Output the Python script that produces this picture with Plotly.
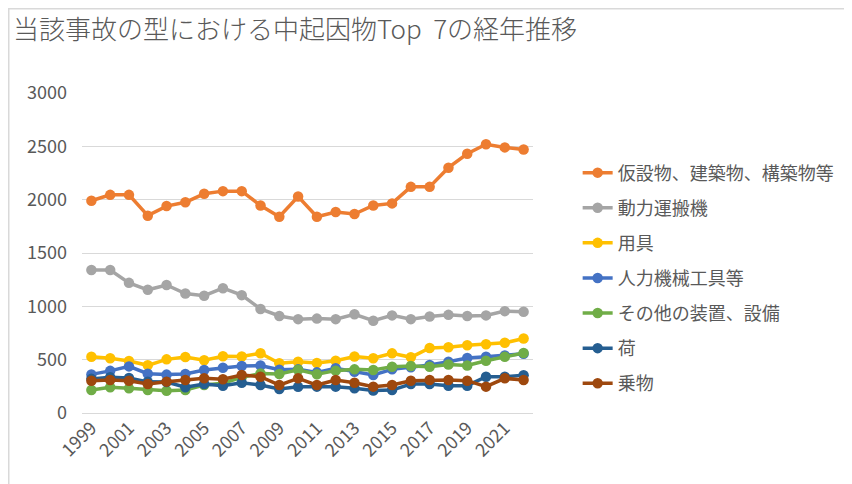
import plotly.graph_objects as go

years = [str(y) for y in range(1999, 2023)]
tick_years = [str(y) for y in range(1999, 2023, 2)]

names = ["仮設物、建築物、構築物等", "動力運搬機", "用具", "人力機械工具等",
         "その他の装置、設備", "荷", "乗物"]
colors = ["#ED7D31", "#A5A5A5", "#FFC000", "#4472C4", "#70AD47", "#255E91", "#9E480E"]

kasetsu = [1990, 2045, 2045, 1850, 1940, 1975, 2055, 2080, 2080, 1945, 1840, 2030,
           1840, 1885, 1865, 1945, 1965, 2120, 2120, 2300, 2430, 2520, 2490, 2470]
douryoku = [1340, 1340, 1220, 1155, 1200, 1120, 1100, 1170, 1105, 975, 910, 880,
            885, 880, 925, 865, 915, 880, 905, 920, 910, 915, 955, 950]
yougu = [528, 513, 488, 447, 503, 525, 495, 532, 530, 560, 466, 481,
         468, 490, 530, 513, 559, 522, 610, 616, 635, 645, 658, 698]
jinriki = [362, 395, 437, 368, 360, 365, 403, 425, 440, 445, 405, 409,
           381, 419, 387, 356, 409, 428, 450, 481, 515, 528, 540, 555]
sonota = [216, 241, 231, 216, 209, 216, 262, 278, 335, 370, 365, 405,
          363, 397, 409, 403, 434, 441, 434, 455, 445, 490, 528, 562]
ni = [320, 335, 328, 292, 290, 242, 272, 255, 284, 262, 225, 245,
      247, 247, 231, 210, 215, 272, 272, 256, 256, 340, 340, 355]
norimono = [303, 309, 303, 272, 294, 309, 325, 316, 356, 340, 262, 325,
            262, 309, 284, 247, 262, 303, 309, 309, 303, 247, 325, 309]

series = [kasetsu, douryoku, yougu, jinriki, sonota, ni, norimono]

fig = go.Figure()
for i, (n, c, v) in enumerate(zip(names, colors, series)):
    fig.add_trace(go.Scatter(
        x=years, y=v, name=n, mode="lines+markers",
        line=dict(color=c, width=3.5),
        marker=dict(color=c, size=10.5),
        legendgroup=f"g{i}",
    ))

text_color = "#595959"
grid_color = "#d9d9d9"
font_family = "Noto Sans CJK JP"

fig.update_layout(
    width=844, height=476,
    paper_bgcolor="white", plot_bgcolor="white",
    margin=dict(l=74, r=319, t=85, b=71),
    font=dict(family=font_family, color=text_color, size=18),
    title=dict(text="当該事故の型における中起因物Top  7の経年推移",
               x=0.006, xref="container", xanchor="left",
               y=0.955, yref="container", yanchor="middle",
               font=dict(size=26, color=text_color, family=font_family, weight=300)),
    showlegend=True,
    legend=dict(x=1.099, xanchor="left", y=0.808, yanchor="top",
                font=dict(size=18, color=text_color, family=font_family),
                tracegroupgap=8.7, bgcolor="rgba(0,0,0,0)"),
    xaxis=dict(type="category", tickmode="array", tickvals=tick_years,
               ticktext=tick_years, tickangle=-45, showgrid=False,
               showline=False, ticks="", tickfont=dict(size=18, color=text_color,
               family=font_family), range=[-0.5, 23.5]),
    yaxis=dict(range=[0, 3000], dtick=500, showgrid=True, gridcolor=grid_color,
               gridwidth=1, zeroline=True, zerolinecolor=grid_color, zerolinewidth=1,
               showline=False, ticks="", ticklabelstandoff=14,
               tickfont=dict(size=18, color=text_color, family=font_family)),
)

fig.add_shape(type="rect", xref="paper", yref="paper",
              x0=-0.1624, x1=1.9, y0=-0.5, y1=1.2633,
              line=dict(color=grid_color, width=1.5), fillcolor="rgba(0,0,0,0)",
              layer="below")

fig.write_html("out.html")
